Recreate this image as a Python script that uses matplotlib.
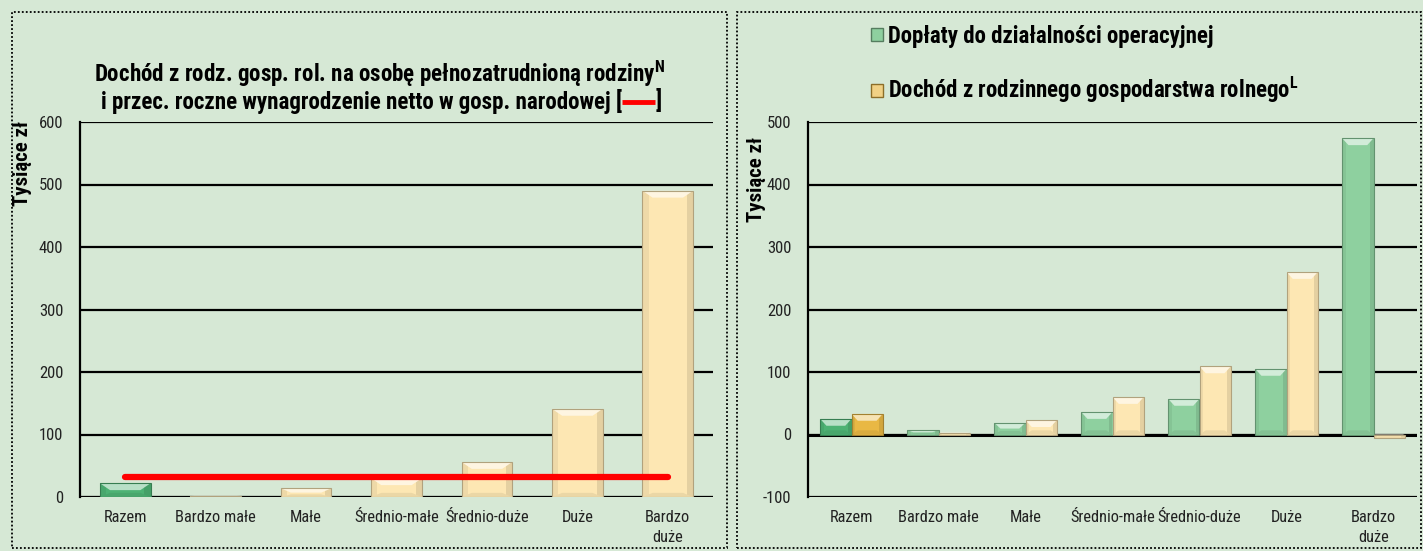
import matplotlib
matplotlib.use("Agg")
import matplotlib.pyplot as plt
from matplotlib.patches import Rectangle, Polygon, Patch
from matplotlib.lines import Line2D
from matplotlib import font_manager as fm
import numpy as np

# ---------------- data ----------------
categories = ["Razem", "Bardzo małe", "Małe", "Średnio-małe", "Średnio-duże", "Duże", "Bardzo\nduże"]
income_per_worker = [22, 2, 14, 30, 56, 141, 490]          # left chart bars
net_wage = [32, 32, 32, 32, 32, 32, 32]                     # red line (left chart)
subsidies = [25, 7, 19, 36, 57, 105, 474]                   # right chart, green
farm_income = [33, 3, 23, 60, 109, 260, -5]                 # right chart, beige
left_ticks = [0, 100, 200, 300, 400, 500, 600]
right_ticks = [-100, 0, 100, 200, 300, 400, 500]

left_title = ["Dochód z rodz. gosp. rol. na osobę pełnozatrudnioną rodziny$^{\\mathbf{N}}$",
              "i przec. roczne wynagrodzenie netto w gosp. narodowej ["]
legend_labels = ["Dopłaty do działalności operacyjnej",
                 "Dochód z rodzinnego gospodarstwa rolnego$^{\\mathbf{L}}$"]
ylabel = "Tysiące zł"

# ---------------- style ----------------
names = {f.name for f in fm.fontManager.ttflist}
fam = "Liberation Sans"
for cand in ["Liberation Sans Narrow", "Arial Narrow", "Nimbus Sans Narrow", "Roboto Condensed"]:
    if cand in names:
        fam = cand
        break
narrow = fam != "Liberation Sans"
k = 1.0 if narrow else 0.9
plt.rcParams["font.family"] = [fam, "DejaVu Sans"]
plt.rcParams["mathtext.fontset"] = "custom"
plt.rcParams["mathtext.bf"] = fam + ":bold"
plt.rcParams["mathtext.rm"] = fam

BG = "#D6E8D5"
GREEN = "#8ED09F"
GREEN_DARK = "#4DB274"
BEIGE = "#FDE7B3"
GOLD = "#E9B844"

fig = plt.figure(figsize=(14.23, 5.51), dpi=100, facecolor=BG)
W, H = 1423, 551

def px(x0, y0, x1, y1):
    return [x0 / W, 1 - y1 / H, (x1 - x0) / W, (y1 - y0) / H]

def lighten(c, f):
    r, g, b = matplotlib.colors.to_rgb(c)
    return (r + (1 - r) * f, g + (1 - g) * f, b + (1 - b) * f)

def darken(c, f):
    r, g, b = matplotlib.colors.to_rgb(c)
    return (r * (1 - f), g * (1 - f), b * (1 - f))

def bevel(ax, bars, depth):
    for p in bars:
        x, y, w, h = p.get_x(), p.get_y(), p.get_width(), p.get_height()
        if h == 0:
            continue
        top = y + h if h > 0 else y
        bot = y if h > 0 else y + h
        hh = abs(h)
        d = min(depth, hh / 2)
        b = w * 0.2
        fc = p.get_facecolor()
        ax.add_patch(Rectangle((x, bot), w * 0.12, hh, facecolor=darken(fc, 0.06),
                               edgecolor="none", zorder=3.05))
        ax.add_patch(Rectangle((x + w * 0.88, bot), w * 0.12, hh, facecolor=darken(fc, 0.1),
                               edgecolor="none", zorder=3.05))
        ax.add_patch(Polygon([(x, top), (x + w, top), (x + w - b, top - d), (x + b, top - d)],
                             closed=True, facecolor=lighten(fc, 0.6), edgecolor="none", zorder=3.1))
        ax.add_patch(Polygon([(x, bot), (x + w, bot), (x + w - b, bot + d * 0.6), (x + b, bot + d * 0.6)],
                             closed=True, facecolor=darken(fc, 0.07), edgecolor="none", zorder=3.1))
        ax.add_patch(Rectangle((x, bot), w, hh, facecolor="none",
                               edgecolor=darken(fc, 0.3), lw=0.8, zorder=3.2))

def style_axes(ax, ylo, yhi, ticks):
    ax.set_facecolor("none")
    ax.set_ylim(ylo, yhi)
    ax.set_yticks(ticks)
    ax.set_yticklabels([str(t) for t in ticks], fontsize=12 * k, color="#222222")
    ax.tick_params(axis="y", length=0, pad=12)
    ax.tick_params(axis="x", length=0, pad=9, labelsize=11.8 * k, labelcolor="#222222")
    for s in ["top", "right", "bottom"]:
        ax.spines[s].set_visible(False)
    ax.spines["left"].set_color("black")
    ax.spines["left"].set_linewidth(1.6)
    ax.grid(axis="y", color="black", lw=1.6)
    ax.set_axisbelow(True)
    ax.axhline(0, color="black", lw=2.2, zorder=2.5)
    ax.set_xlim(-0.5, len(categories) - 0.5)
    ax.set_xticks(range(len(categories)))
    ax.set_xticklabels(categories, linespacing=1.45)

# ---------------- left chart ----------------
axL = fig.add_axes(px(80, 122, 713, 497))
xs = np.arange(len(categories))
colsL = [GREEN_DARK] + [BEIGE] * (len(categories) - 1)
barsL = axL.bar(xs, income_per_worker, width=0.56, color=colsL, zorder=3)
style_axes(axL, 0, 600, left_ticks)
bevel(axL, barsL, 11)
axL.plot(xs, net_wage, color="#FF0000", lw=4.5, solid_capstyle="round", zorder=4)

# ---------------- right chart ----------------
axR = fig.add_axes(px(808, 122, 1417, 497))
bw = 0.36
colsG = [GREEN_DARK if i == 0 else GREEN for i in range(len(categories))]
colsB = [GOLD if i == 0 else BEIGE for i in range(len(categories))]
barsG = axR.bar(xs - bw / 2, subsidies, width=bw, color=colsG, zorder=3)
barsB = axR.bar(xs + bw / 2, farm_income, width=bw, color=colsB, zorder=3)
style_axes(axR, -100, 500, right_ticks)
bevel(axR, barsG, 11)
bevel(axR, barsB, 11)

# ---------------- texts ----------------
tfs = 16.6 if narrow else 13.9
fig.text(380 / W, 1 - 74 / H, left_title[0], ha="center", va="center",
         fontsize=tfs, fontweight="bold")
t2 = fig.text(362 / W, 1 - 101 / H, left_title[1], ha="center", va="center",
              fontsize=tfs, fontweight="bold")
fig.canvas.draw()
r = fig.canvas.get_renderer()
bb = t2.get_window_extent(r)
gap = -1
dash_len = 33
ymid = (bb.y0 + bb.y1) / 2 - 1
fig.add_artist(Line2D([(bb.x1 + gap) / W, (bb.x1 + gap + dash_len) / W],
                      [ymid / H, ymid / H], transform=fig.transFigure,
                      color="#FF0000", lw=3.5, solid_capstyle="butt"))
fig.text((bb.x1 + gap + dash_len + 1) / W, 1 - 101 / H, "]", ha="left", va="center",
         fontsize=tfs, fontweight="bold")

fig.text(22 / W, 1 - 163 / H, ylabel, rotation=90, ha="center", va="center",
         fontsize=15, fontweight="bold")
fig.text(757 / W, 1 - 180 / H, ylabel, rotation=90, ha="center", va="center",
         fontsize=15, fontweight="bold")

# legend for right chart
handles = [Patch(facecolor=GREEN, edgecolor=darken(GREEN, 0.4)),
           Patch(facecolor=lighten(GOLD, 0.35), edgecolor=darken(GOLD, 0.4))]
fig.legend(handles, legend_labels, loc="center left",
           bbox_to_anchor=(860 / W, 1 - 65 / H), frameon=False,
           prop={"family": fam, "weight": "bold", "size": 16.5 if narrow else 14.2},
           handlelength=0.5, handleheight=0.5, handletextpad=0.2, labelspacing=1.2,
           borderpad=0)

# dotted panel borders
for (x0, y0, x1, y1) in [(12, 12, 727, 548), (737, 12, 1421, 548)]:
    fig.patches.append(Rectangle((x0 / W, 1 - y1 / H), (x1 - x0) / W, (y1 - y0) / H,
                                 transform=fig.transFigure, fill=False, edgecolor="black",
                                 lw=1.3, linestyle=(0, (1, 1.2))))

fig.savefig("out.png", dpi=100, facecolor=BG)
